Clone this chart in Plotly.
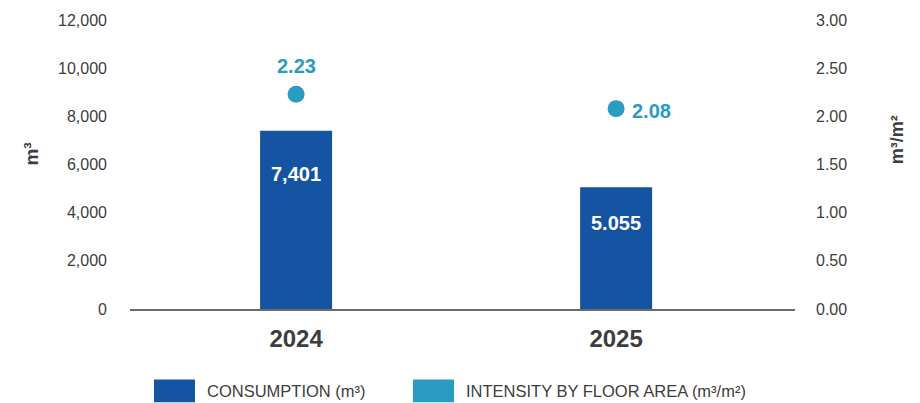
import plotly.graph_objects as go

years = ["2024", "2025"]
consumption = [7401, 5055]
consumption_labels = ["7,401", "5.055"]
intensity = [2.23, 2.08]
intensity_labels = ["2.23", "2.08"]

left_ticks = [0, 2000, 4000, 6000, 8000, 10000, 12000]
right_ticks = [0, 0.5, 1.0, 1.5, 2.0, 2.5, 3.0]

BAR_COLOR = "#1554a2"
DOT_COLOR = "#2a9bc1"
TEXT_COLOR = "#3d3d3d"
FONT = "Liberation Sans, Arial, sans-serif"

x_pos = [0, 1]

fig = go.Figure()

fig.add_trace(go.Bar(
    x=x_pos, y=consumption, width=0.225,
    marker=dict(color=BAR_COLOR, line=dict(width=0)),
    name="CONSUMPTION (m³)", showlegend=False, hoverinfo="skip",
))

fig.add_trace(go.Scatter(
    x=x_pos, y=intensity, yaxis="y2", mode="markers",
    marker=dict(color=DOT_COLOR, size=17),
    name="INTENSITY BY FLOOR AREA (m³/m²)", showlegend=False, hoverinfo="skip",
))

annotations = []
# value labels inside bars
for xv, v, lab in zip(x_pos, consumption, consumption_labels):
    annotations.append(dict(
        x=xv, y=v, xref="x", yref="y", text=f"<b>{lab}</b>", showarrow=False,
        yshift=-36 if xv == 1 else -43, font=dict(family=FONT, size=20, color="white"),
    ))
# intensity labels
annotations.append(dict(
    x=x_pos[0], y=intensity[0], xref="x", yref="y2", text=f"<b>{intensity_labels[0]}</b>",
    showarrow=False, yshift=28, font=dict(family=FONT, size=20, color=DOT_COLOR),
))
annotations.append(dict(
    x=x_pos[1], y=intensity[1], xref="x", yref="y2", text=f"<b>{intensity_labels[1]}</b>",
    showarrow=False, xanchor="left", xshift=14, yshift=-2,
    font=dict(family=FONT, size=20, color=DOT_COLOR),
))
# axis titles
annotations.append(dict(
    x=19, y=153, xref="paper", yref="paper", text="<b>m³</b>", showarrow=False,
    textangle=-90, font=dict(family=FONT, size=19, color=TEXT_COLOR),
))
annotations.append(dict(
    x=909, y=139, xref="paper", yref="paper", text="<b>m³/m²</b>",
    showarrow=False, textangle=-90, font=dict(family=FONT, size=18, color=TEXT_COLOR),
))

# legend drawn as swatches + labels
legend_items = [
    ("CONSUMPTION (m³)", BAR_COLOR, 154),
    ("INTENSITY BY FLOOR AREA (m³/m²)", DOT_COLOR, 413),
]
shapes = []
for label, color, x0 in legend_items:
    shapes.append(dict(type="rect", xref="paper", yref="paper", x0=x0, x1=x0 + 41,
                       y0=380, y1=403, fillcolor=color, line=dict(width=0), layer="above"))
    annotations.append(dict(
        x=x0 + 51, y=392, xref="paper", yref="paper", text=label, showarrow=False,
        xanchor="left", yanchor="middle", font=dict(family=FONT, size=16.5, color=TEXT_COLOR),
    ))

W, H = 920, 403
L, R, T, B = 130, 125, 18, 94

# convert pixel-based paper coordinates to fractions
for a in annotations:
    if a["xref"] == "paper":
        a["x"] = (a["x"] - L) / (W - L - R)
        a["y"] = 1 - (a["y"] - T) / (H - T - B)
for s in shapes:
    s["x0"] = (s["x0"] - L) / (W - L - R)
    s["x1"] = (s["x1"] - L) / (W - L - R)
    y0 = 1 - (s["y0"] - T) / (H - T - B)
    y1 = 1 - (s["y1"] - T) / (H - T - B)
    s["y0"], s["y1"] = y1, y0

fig.update_layout(
    width=W, height=H,
    margin=dict(l=L, r=R, t=T, b=B, pad=0),
    paper_bgcolor="white", plot_bgcolor="white",
    font=dict(family=FONT, color=TEXT_COLOR),
    showlegend=False,
    xaxis=dict(
        range=[-0.519, 1.559], tickvals=x_pos, ticktext=[f"<b>{y}</b>" for y in years],
        tickfont=dict(family=FONT, size=24, color=TEXT_COLOR),
        showgrid=False, zeroline=False, showline=True, linecolor="#6b6b6b", linewidth=1.5,
        ticks="", ticklabelstandoff=7,
    ),
    yaxis=dict(
        range=[0, 12000], tickvals=left_ticks, tickformat=",d",
        tickfont=dict(family=FONT, size=16, color=TEXT_COLOR),
        showgrid=False, zeroline=False, showline=False, ticks="", ticklabelstandoff=22,
    ),
    yaxis2=dict(
        range=[0, 3.0], tickvals=right_ticks, tickformat=".2f", overlaying="y", side="right",
        tickfont=dict(family=FONT, size=16, color=TEXT_COLOR),
        showgrid=False, zeroline=False, showline=False, ticks="", ticklabelstandoff=20,
    ),
    annotations=annotations,
    shapes=shapes,
)

fig.write_html("out.html")
